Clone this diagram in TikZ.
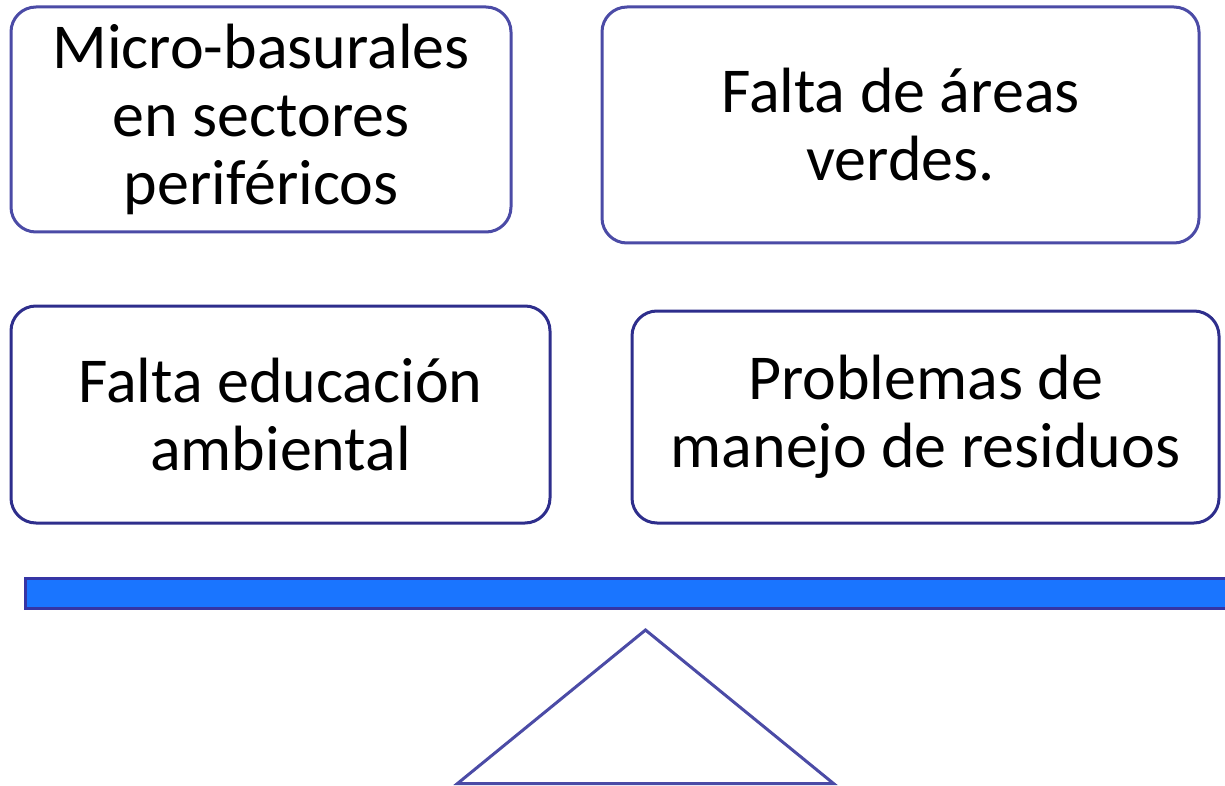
\documentclass[tikz,border=0pt]{standalone}
\usepackage{fontspec}
\setmainfont{Carlito}
\definecolor{edgeA}{HTML}{4B4BA6}
\definecolor{edgeB}{HTML}{2E2E8C}
\definecolor{barfill}{HTML}{1A75FF}
\definecolor{baredge}{HTML}{3535A5}
\begin{document}
\begin{tikzpicture}[x=1pt,y=-1pt,
  card/.style={draw, line width=3pt, rounded corners=25pt, fill=white, inner sep=0pt,
    align=center, font=\fontsize{64}{68}\selectfont},
  cardA/.style={card, draw=edgeA},
  cardB/.style={card, draw=edgeB}]
\useasboundingbox (0,0) rectangle (1225,786);
\node[cardA, minimum width=500pt, minimum height=225pt] (b1) at (261,119.5)
  {Micro-basurales\\en sectores\\periféricos};
\node[cardA, minimum width=597pt, minimum height=236pt] (b2) at (900.5,125)
  {Falta de áreas\\verdes.};
\node[cardB, minimum width=539pt, minimum height=217pt] (b3) at (280.5,414.5)
  {Falta educación\\ambiental};
\node[cardB, minimum width=587pt, minimum height=212pt] (b4) at (925.5,417)
  {Problemas de\\manejo de residuos};
\draw[line width=3pt, draw=baredge, fill=barfill] (25,578) rectangle (1240,608);
\coordinate (apex) at (645.5,630);
\coordinate (bl) at (457.5,783.5);
\coordinate (br) at (833.5,783.5);
\draw[line width=3pt, draw=edgeA, line join=miter] (apex) -- (br) -- (bl) -- cycle;
\end{tikzpicture}
\end{document}
